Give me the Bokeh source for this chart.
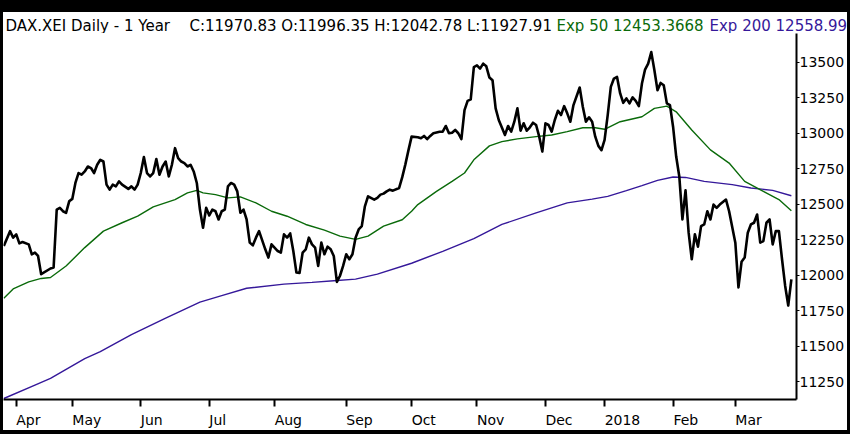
from bokeh.plotting import figure
from bokeh.models import Range1d, FixedTicker, LinearAxis, Label, Div
from bokeh.layouts import column, row
from bokeh.embed import file_html
from bokeh.resources import INLINE

# trading-day index (0 = 2017-03-28) and DAX close
close_day = [0, 2, 3, 4, 5, 6, 8, 9, 10, 11, 12, 15, 16, 17, 18, 19, 20, 21, 22, 23, 24, 25, 26, 27, 28, 29,
             30, 31, 32, 33, 34, 35, 36, 37, 38, 40, 41, 42, 43, 44, 45, 46, 47, 48, 49, 50, 51, 52, 53, 54,
             55, 56, 57, 58, 59, 60, 61, 62, 63, 64, 65, 66, 67, 68, 69, 70, 71, 72, 73, 74, 75, 76, 77, 78,
             79, 80, 81, 82, 84, 85, 86, 88, 89, 90, 91, 92, 93, 94, 95, 96, 97, 98, 99, 100, 101, 102, 103,
             104, 105, 106, 107, 108, 109, 110, 111, 112, 113, 114, 115, 116, 117, 119, 120, 121, 122, 123,
             124, 125, 127, 128, 129, 130, 131, 133, 134, 135, 136, 137, 138, 140, 141, 142, 143, 144, 145,
             146, 147, 148, 149, 150, 151, 152, 153, 154, 155, 156, 157, 158, 159, 161, 162, 163, 164, 165,
             166, 167, 168, 169, 170, 171, 172, 173, 174, 175, 176, 177, 178, 179, 180, 181, 182, 183, 185,
             186, 187, 188, 189, 190, 191, 192, 193, 194, 195, 196, 197, 198, 199, 200, 201, 202, 203, 204,
             205, 206, 207, 208, 209, 210, 211, 212, 213, 214, 215, 216, 217, 218, 219, 220, 221, 222, 223,
             224, 225, 226, 227, 228, 229, 230, 232, 233, 235, 236, 237, 238, 239, 240, 241, 242, 243, 244,
             245, 246, 247, 248, 249, 250, 251, 252, 253]
close_val = [12205, 12310, 12264, 12287, 12224, 12233, 12217, 12147, 12159, 12135, 12007, 12047, 12054, 12462,
             12474, 12450, 12439, 12520, 12537, 12649, 12719, 12707, 12730, 12765, 12754, 12719,
             12777, 12812, 12800, 12637, 12602, 12637, 12625, 12660, 12637, 12607, 12625, 12602, 12637, 12719,
             12831, 12719, 12695, 12719, 12817, 12707, 12765, 12800, 12695, 12777,
             12894, 12824, 12800, 12789, 12765, 12777, 12730, 12649, 12462, 12334, 12474, 12420, 12462, 12450,
             12392, 12450, 12462, 12625, 12649, 12637, 12590, 12439, 12462, 12392,
             12229, 12210, 12264, 12310, 12182, 12124, 12217, 12170, 12159, 12287, 12264, 12294, 12170, 12019,
             12015, 12159, 12182, 12264, 12217, 12194, 12065, 12229, 12147,
             12201, 12182, 12135, 11953, 11996, 12065, 12147, 12112, 12147, 12264, 12322, 12345, 12485, 12555,
             12532, 12544, 12567, 12574, 12590,
             12602, 12595, 12614, 12690, 12780, 12880, 12975, 12971, 12964, 12980, 12957, 12980, 12999, 13010,
             13010, 13050, 12999, 13003, 13022,
             12999, 12957, 13162, 13227, 13237, 13465, 13477, 13454, 13489, 13470, 13391, 13372, 13174, 13092,
             12987, 13050, 13010, 13080, 13174,
             13017, 13069, 13017, 13041, 13073, 13057, 12975, 12870, 13069, 13057, 13010, 13092, 13157, 13127,
             13190, 13139, 13080, 13197, 13321,
             13185, 13080, 13111, 13080, 12975, 12910, 12880, 12952, 13127, 13325, 13384, 13395, 13279, 13213,
             13244, 13209, 13251, 13227, 13190,
             13349, 13447, 13489, 13570, 13442, 13302, 13353, 13337, 13209, 13197, 13045, 12835, 12695, 12392,
             12597, 12299, 12112, 12287, 12201,
             12345, 12357, 12450, 12392, 12497, 12474, 12497, 12532, 12450, 12229, 11914, 12094, 12124, 12299,
             12357, 12369, 12427, 12229, 12240,
             12369, 12392, 12217, 12310, 12310, 12112, 11926, 11786, 11970.83]

ema50_day = [0, 3, 8, 12, 15, 20, 26, 32, 38, 43, 48, 55, 59, 62, 64, 68, 72, 76, 81, 86, 91, 97, 103, 108,
             113, 117, 122, 128, 131, 133, 139, 144, 148, 151, 156, 160, 165, 171, 176, 181, 186, 190, 193,
             198, 205, 209, 213, 216, 221, 227, 233, 238, 244, 249, 253]
ema50_val = [11837, 11903, 11953, 11977, 11984, 12065, 12194, 12310, 12369, 12415, 12481, 12532, 12579, 12597,
             12579, 12567, 12544, 12551, 12509, 12450, 12415, 12357, 12317, 12275, 12252, 12275, 12345, 12390,
             12450, 12497, 12590, 12660, 12719, 12812, 12910, 12940, 12959, 12975, 12987, 13010, 13038, 13038,
             13027, 13080, 13115, 13174, 13190, 13150, 13022, 12882, 12789, 12660, 12590, 12532, 12453.37]

ema200_day = [0, 10, 15, 26, 31, 41, 52, 63, 70, 78, 90, 99, 106, 113, 120, 131, 141, 151, 160, 171, 181,
              189, 194, 200, 205, 210, 215, 219, 225, 234, 240, 247, 253]
ema200_val = [11132, 11226, 11273, 11413, 11462, 11581, 11697, 11810, 11856, 11908, 11937, 11949, 11961, 11972,
              12007, 12084, 12168, 12257, 12357, 12439, 12509, 12535, 12555, 12595, 12630, 12667, 12691, 12688,
              12660, 12637, 12614, 12597, 12558.99]

month_tick_day = [4, 22, 44, 66, 87, 110, 131, 152, 174, 193, 215, 235]
month_tick_label = ["Apr", "May", "Jun", "Jul", "Aug", "Sep", "Oct", "Nov", "Dec", "2018", "Feb", "Mar"]
y_ticks = [11250, 11500, 11750, 12000, 12250, 12500, 12750, 13000, 13250, 13500]

header_main = "DAX.XEI Daily -  1 Year"
header_ohlc = "C:11970.83 O:11996.35 H:12042.78 L:11927.91"
header_ema50 = "Exp 50 12453.3668"
header_ema200 = "Exp 200 12558.99"

GREEN = "#0a6a0a"
PURPLE = "#35189a"
FONT = "DejaVu Sans"
W = 844
X_LO, X_HI = -0.1, 254.65

# ---------- header strip (own canvas so the texts are not clipped) ----------
hf = figure(width=W, height=21, output_backend="svg", toolbar_location=None,
            x_range=Range1d(0, 1), y_range=Range1d(0, 1),
            x_axis_location=None, y_axis_location=None, min_border=0)
hf.outline_line_color = None
hf.grid.visible = False
for txt, sx, col in [(header_main, 2, "black"), (header_ohlc, 186, "black"),
                     (header_ema50, 553, GREEN), (header_ema200, 706, PURPLE)]:
    hf.add_layout(Label(x=sx, y=-1, x_units="screen", y_units="screen", text=txt,
                        text_font=FONT, text_font_size="15px", text_color=col,
                        text_baseline="bottom", text_align="left"))

# ---------- main chart ----------
p = figure(width=W, height=397, output_backend="svg", toolbar_location=None,
           x_range=Range1d(X_LO, X_HI), y_range=Range1d(11125, 13701),
           x_axis_location=None, y_axis_location=None,
           min_border_left=0, min_border_right=0, min_border_top=0, min_border_bottom=0)
p.outline_line_color = None
p.grid.visible = False

p.line(ema200_day, ema200_val, line_color=PURPLE, line_width=1.4)
p.line(ema50_day, ema50_val, line_color=GREEN, line_width=1.4)
p.line(close_day, close_val, line_color="black", line_width=2.6, line_join="round")

# tick marks (labels hidden)
xticks = LinearAxis(ticker=FixedTicker(ticks=month_tick_day), axis_label=None,
                    major_label_overrides={d: "" for d in month_tick_day})
xticks.axis_line_width = 2
xticks.major_tick_line_width = 2
xticks.major_tick_out = 7
xticks.major_tick_in = 0
xticks.minor_tick_line_color = None
xticks.major_label_standoff = 0
xticks.major_label_text_font_size = "0px"
p.add_layout(xticks, "below")

# month labels, left-aligned at their tick: shift each centre by half its text width
CHAR_EM = {"A": .684, "p": .635, "r": .411, "M": .863, "a": .613, "y": .592, "J": .295, "u": .634,
           "n": .634, "l": .278, "g": .635, "S": .635, "e": .615, "O": .787, "c": .550, "t": .392,
           "N": .748, "o": .612, "v": .592, "D": .770, "F": .575, "b": .635}
LABEL_PX = 14
px_per_day = 791.0 / (X_HI - X_LO)
label_pos = [round(d + sum(CHAR_EM.get(ch, .636) for ch in lab) * LABEL_PX / 2 / px_per_day, 2)
             for d, lab in zip(month_tick_day, month_tick_label)]
xlabels = LinearAxis(ticker=FixedTicker(ticks=label_pos), axis_label=None,
                     major_label_overrides={pos: lab for pos, lab in zip(label_pos, month_tick_label)})
xlabels.axis_line_color = None
xlabels.major_tick_line_color = None
xlabels.major_tick_out = 0
xlabels.major_tick_in = 0
xlabels.minor_tick_line_color = None
xlabels.major_label_standoff = 5
xlabels.major_label_text_font = FONT
xlabels.major_label_text_font_size = f"{LABEL_PX}px"
xlabels.major_label_text_color = "black"
p.add_layout(xlabels, "below")

yaxis = LinearAxis(ticker=FixedTicker(ticks=y_ticks), axis_label=None)
yaxis.axis_line_width = 2
yaxis.major_tick_out = 3
yaxis.major_tick_in = 0
yaxis.minor_tick_line_color = None
yaxis.major_label_standoff = 0
yaxis.major_label_text_font = FONT
yaxis.major_label_text_font_size = "14px"
yaxis.major_label_text_color = "black"
p.add_layout(yaxis, "right")

# black frame around the whole picture
def black(w, h):
    return Div(text="", width=w, height=h, margin=0, styles={"background-color": "black"})

head_row = row(black(3, 21), hf, black(3, 21), spacing=0, margin=0)
plot_row = row(black(3, 397), p, black(3, 397), spacing=0, margin=0)
layout = column(black(850, 12), head_row, plot_row, black(850, 4), spacing=0, margin=0)

open("out.html", "w").write(file_html(layout, INLINE))
